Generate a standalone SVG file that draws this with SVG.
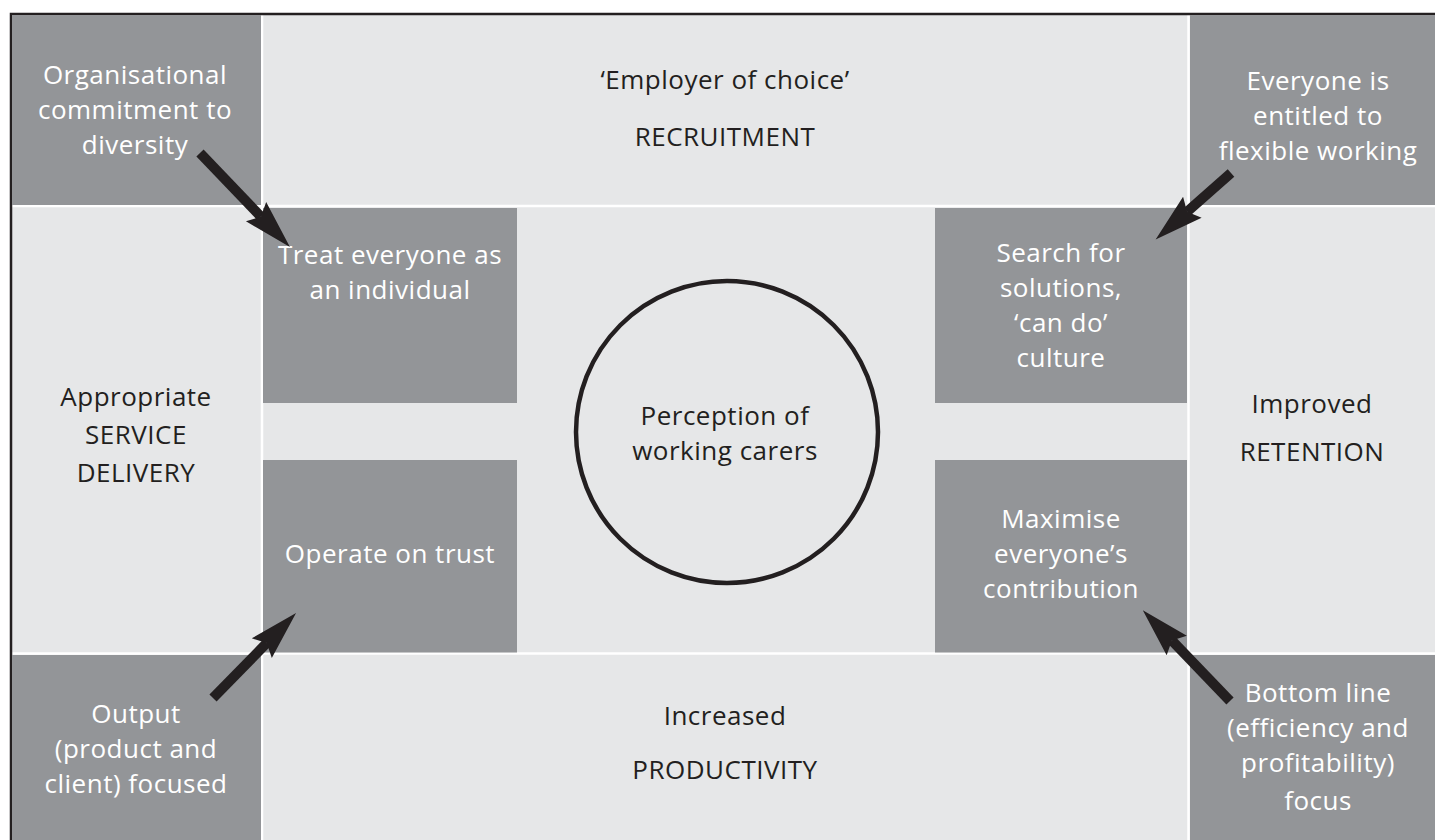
<svg xmlns="http://www.w3.org/2000/svg" width="1435" height="840" viewBox="0 0 1435 840">
<style>
.bg{fill:#e6e7e8}
.dk{fill:#939598}
.sep{stroke:#ffffff;stroke-width:2.5;fill:none}
text{font-family:"Open Sans","Liberation Sans",sans-serif;font-size:26px;letter-spacing:0.5px;text-anchor:middle}
.w{fill:#ffffff}
.b{fill:#231f20}
.arrow{stroke:#231f20;stroke-width:10;fill:none}
</style>
<defs>
<marker id="ah" markerUnits="userSpaceOnUse" markerWidth="80" markerHeight="80" refX="0" refY="0" orient="auto" overflow="visible">
<path d="M-7,-14 L42,0 L-7,14 L0,0 Z" fill="#231f20"/>
</marker>
</defs>
<rect x="0" y="0" width="1435" height="840" fill="#ffffff"/>
<rect class="bg" x="12" y="15" width="1423" height="825"/>
<g id="frame">
<line class="sep" x1="262" y1="15" x2="262" y2="840"/>
<line class="sep" x1="1188.5" y1="15" x2="1188.5" y2="840"/>
<line class="sep" x1="12" y1="206" x2="1435" y2="206"/>
<line class="sep" x1="12" y1="653.5" x2="1435" y2="653.5"/>
<path d="M11,840 V14 H1435" stroke="#231f20" stroke-width="2.5" fill="none"/>
</g>
<g id="n-org-commitment">
<rect class="dk" x="12" y="15" width="249" height="190"/>
<text class="w"><tspan x="135" y="84">Organisational</tspan><tspan x="135" y="119">commitment to</tspan><tspan x="135" y="154">diversity</tspan></text>
</g>
<g id="n-recruitment">
<text class="b"><tspan x="725" y="89">‘Employer of choice’</tspan><tspan x="725" y="146">RECRUITMENT</tspan></text>
</g>
<g id="n-flexible">
<rect class="dk" x="1190" y="15" width="245" height="190"/>
<text class="w"><tspan x="1318" y="90">Everyone is</tspan><tspan x="1318" y="125">entitled to</tspan><tspan x="1318" y="160">flexible working</tspan></text>
</g>
<g id="n-service">
<text class="b"><tspan x="136" y="406">Appropriate</tspan><tspan x="136" y="444">SERVICE</tspan><tspan x="136" y="482">DELIVERY</tspan></text>
</g>
<g id="n-retention">
<text class="b"><tspan x="1312" y="413">Improved</tspan><tspan x="1312" y="461">RETENTION</tspan></text>
</g>
<g id="n-treat">
<rect class="dk" x="263" y="208" width="254" height="195"/>
<text class="w"><tspan x="390" y="264">Treat everyone as</tspan><tspan x="390" y="299">an individual</tspan></text>
</g>
<g id="n-search">
<rect class="dk" x="935" y="208" width="252" height="195"/>
<text class="w"><tspan x="1061" y="262">Search for</tspan><tspan x="1061" y="297">solutions,</tspan><tspan x="1061" y="332">‘can do’</tspan><tspan x="1061" y="367">culture</tspan></text>
</g>
<g id="n-operate">
<rect class="dk" x="263" y="460" width="254" height="192.5"/>
<text class="w"><tspan x="390" y="563">Operate on trust</tspan></text>
</g>
<g id="n-maximise">
<rect class="dk" x="935" y="460" width="252" height="192.5"/>
<text class="w"><tspan x="1061" y="528">Maximise</tspan><tspan x="1061" y="563">everyone’s</tspan><tspan x="1061" y="598">contribution</tspan></text>
</g>
<g id="n-perception">
<circle cx="727" cy="432" r="151" fill="none" stroke="#231f20" stroke-width="4.5"/>
<text class="b"><tspan x="725" y="425">Perception of</tspan><tspan x="725" y="460">working carers</tspan></text>
</g>
<g id="n-output">
<rect class="dk" x="12" y="655" width="249" height="185"/>
<text class="w"><tspan x="136" y="723">Output</tspan><tspan x="136" y="758">(product and</tspan><tspan x="136" y="793">client) focused</tspan></text>
</g>
<g id="n-productivity">
<text class="b"><tspan x="725" y="725">Increased</tspan><tspan x="725" y="779">PRODUCTIVITY</tspan></text>
</g>
<g id="n-bottomline">
<rect class="dk" x="1190" y="655" width="245" height="185"/>
<text class="w"><tspan x="1318" y="702">Bottom line</tspan><tspan x="1318" y="737">(efficiency and</tspan><tspan x="1318" y="772">profitability)</tspan><tspan x="1318" y="810">focus</tspan></text>
</g>
<g id="connectors">
<line class="arrow" x1="200" y1="153" x2="260.9" y2="216.7" marker-end="url(#ah)"/>
<line class="arrow" x1="1231" y1="173" x2="1187.1" y2="211.8" marker-end="url(#ah)"/>
<line class="arrow" x1="213" y1="698" x2="266.7" y2="643.1" marker-end="url(#ah)"/>
<line class="arrow" x1="1230" y1="701" x2="1171.9" y2="640.5" marker-end="url(#ah)"/>
</g>
</svg>
